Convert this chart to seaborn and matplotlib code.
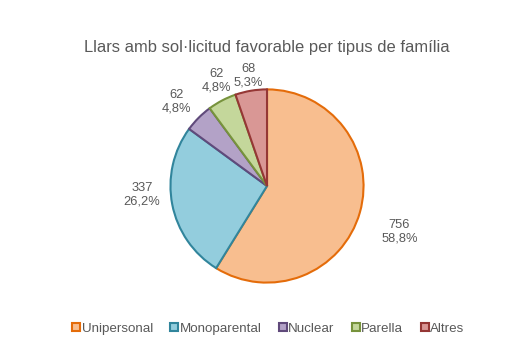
import numpy as np
import matplotlib
matplotlib.use("Agg")
import matplotlib.pyplot as plt
from matplotlib.patches import Patch
import seaborn as sns

categories = ["Unipersonal", "Monoparental", "Nuclear", "Parella", "Altres"]
values = [756, 337, 62, 62, 68]
percent_labels = ["58,8%", "26,2%", "4,8%", "4,8%", "5,3%"]
fill_colors = ["#F8BE8F", "#93CDDD", "#B3A2C7", "#C4D79B", "#D99795"]
edge_colors = ["#E46C0A", "#31859C", "#604A7B", "#77933C", "#953735"]
label_dist = [1.45, 1.30, 1.28, 1.21, 1.16]
label_angle_shift = [-3, -7, 2, -2, 0]

sns.set_theme(style="white")
plt.rcParams['font.family'] = ['Liberation Sans', 'DejaVu Sans']

fig = plt.figure(figsize=(5.21, 3.57), dpi=100)
w_ax, h_ax = 0.378, 0.552
ax = fig.add_axes([0.5125 - w_ax / 2, 0.479 - h_ax / 2, w_ax, h_ax])

wedges, _ = ax.pie(values, colors=fill_colors, startangle=90, counterclock=False,
                   wedgeprops=dict(linewidth=1.5))
for w, ec in zip(wedges, edge_colors):
    w.set_edgecolor(ec)
ax.set_aspect('auto')
ax.set_xlim(-1.02, 1.02)
ax.set_ylim(-1.02, 1.02)

for w, v, p, d, s in zip(wedges, values, percent_labels, label_dist, label_angle_shift):
    ang = np.deg2rad((w.theta1 + w.theta2) / 2 + s)
    ax.text(d * np.cos(ang), d * np.sin(ang), f"{v}\n{p}", ha='center', va='center',
            fontsize=9.3, color='#595959', linespacing=1.15)

fig.text(0.513, 0.866, "Llars amb sol·licitud favorable per tipus de família",
         ha='center', va='center', fontsize=11.9, color='#595959')

handles = [Patch(facecolor=f, edgecolor=e, linewidth=1.5) for f, e in zip(fill_colors, edge_colors)]
leg = fig.legend(handles, categories, loc='center', bbox_to_anchor=(0.515, 0.079), ncol=5,
                 frameon=False, fontsize=9.6, handlelength=0.6, handleheight=0.6,
                 handletextpad=0.1, columnspacing=1.3)
for t in leg.get_texts():
    t.set_color('#595959')

fig.savefig("out.png", dpi=100)
